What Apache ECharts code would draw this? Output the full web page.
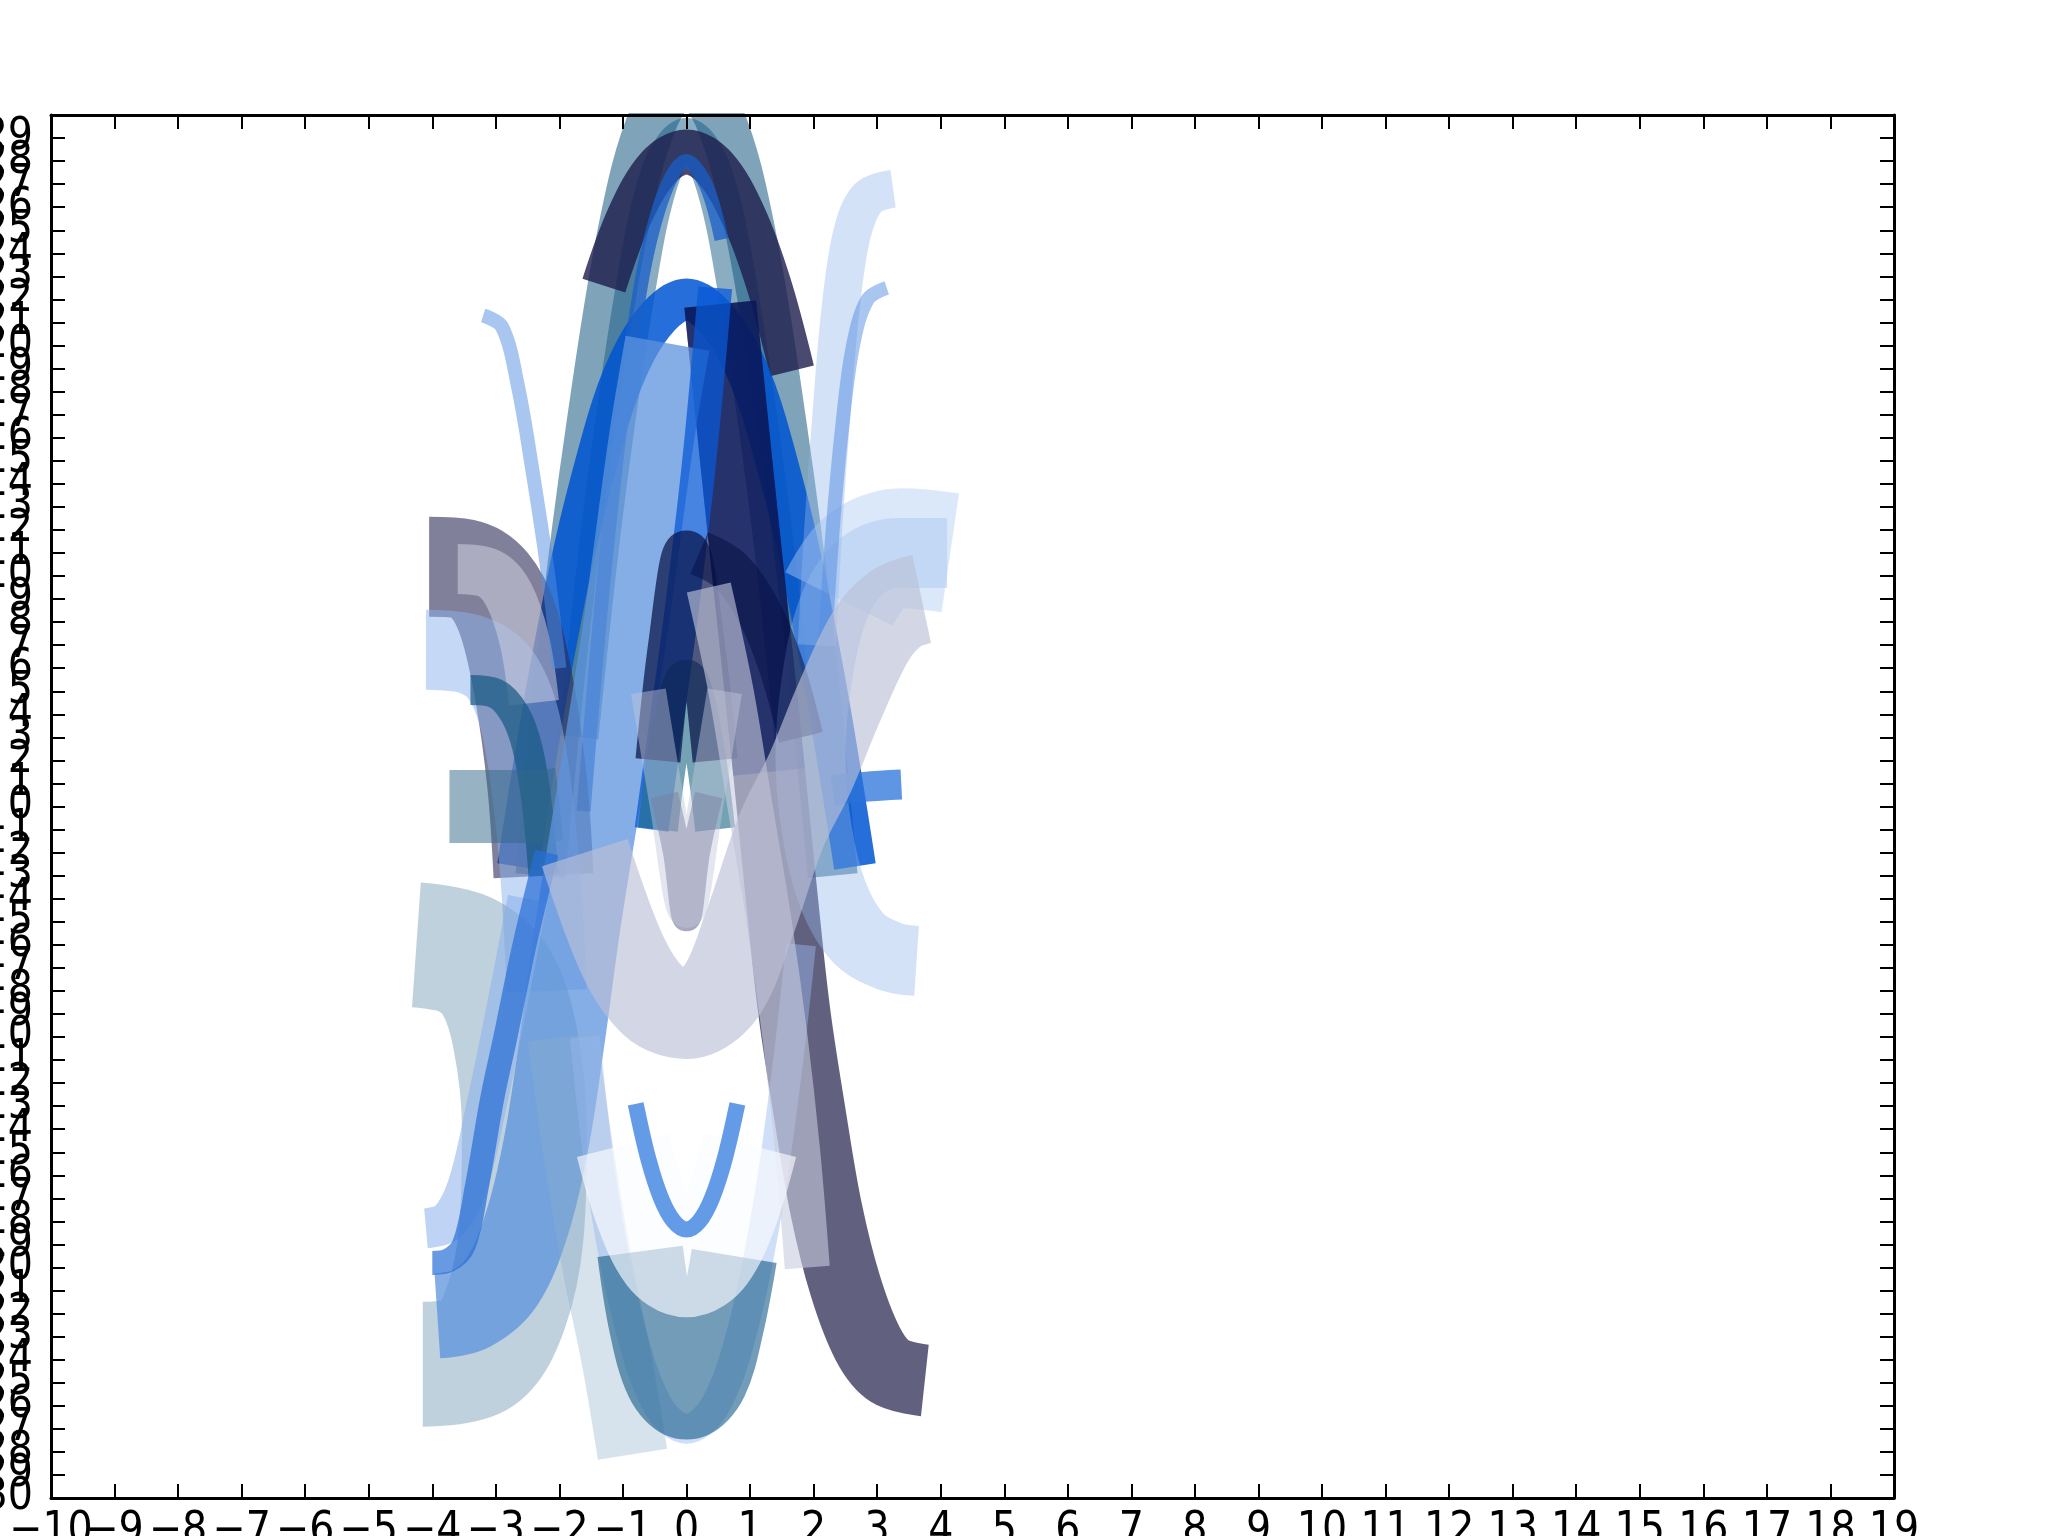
<!DOCTYPE html>
<html>
<head>
<meta charset="utf-8">
<script src="https://cdn.jsdelivr.net/npm/echarts@6/dist/echarts.min.js"></script>
<style>
  html, body { margin: 0; background: #fff; }
  #main { width: 2048px; height: 1536px; }
</style>
</head>
<body>
<div id="main"></div>
<script>
// axis ranges (ticks every 1)
var xRange = [-10, 19];
var yRange = [-30, 30];

// curves, [x, y] points
var tealOuter = [[-2.3,-3],[-1.9,8],[-1.5,16.5],[-1.0,25],[-0.5,30],[0,31.5],[0.5,30],[1.0,25],[1.5,16.5],[1.9,8],[2.3,-3]];
var tealInner = [[-1.7,3],[-1.3,13],[-0.8,22.5],[-0.4,27.5],[0,29],[0.4,27.5],[0.8,22.5],[1.3,13],[1.7,3]];
var navyDome = [[-1.3,22.6],[-0.9,25.6],[-0.45,27.7],[0,28.4],[0.45,27.7],[0.9,25.6],[1.3,22.6],[1.66,18.9]];
var blueDome = [[-2.65,-2.6],[-2.1,6.5],[-1.5,14.1],[-0.8,19.8],[0,22],[0.8,19.8],[1.5,14.1],[2.1,6.5],[2.65,-2.6]];
var blueStripe = [[0.45,22.5],[0.2,15],[-0.1,8],[-0.35,3],[-0.55,-1]];
var thinTop = [[-1.62,-0.2],[-1.25,11.3],[-0.85,20.3],[-0.45,25.8],[0,28],[0.3,27],[0.55,24.6]];
var slate = [[0.53,21.8],[0.8,14.5],[1.05,8],[1.3,1.5],[1.5,-4],[1.7,-9],[1.95,-13.5],[2.2,-17.5],[2.5,-20.8],[2.85,-23.3],[3.2,-24.5],[3.75,-24.9]];
var deepNavy = [[0.53,21.8],[0.8,14.5],[1.05,8],[1.3,1.5]];
var navyArch = [[0.2,11],[0.7,10.2],[1.15,8.4],[1.5,6],[1.8,3]];
var leftPurple = [[-4.05,10.4],[-3.5,10.3],[-3.1,9.6],[-2.8,8],[-2.55,5],[-2.35,1],[-2.25,-3]];
var leftSky = [[-4.1,6.8],[-3.4,6.6],[-2.95,5.8],[-2.65,4],[-2.45,1],[-2.3,-3],[-2.2,-8]];
var leftLilac = [[-3.6,10.3],[-3.1,10.1],[-2.8,9.2],[-2.55,7.2],[-2.4,4.5]];
var leftTeal = [[-3.4,5.05],[-3.0,4.9],[-2.7,4],[-2.5,2.5],[-2.35,0],[-2.25,-3]];
var leftBar = [[-3.73,0],[-3.1,0],[-2.5,0],[-2.0,0.1]];
var steelHook = [[-4.25,-6],[-3.5,-6.4],[-3.0,-7.6],[-2.7,-10],[-2.55,-14],[-2.6,-18.5],[-2.85,-21.8],[-3.3,-23.8],[-4.15,-24.2]];
var skySlab = [[-0.3,20.1],[-0.55,16],[-0.95,8],[-1.35,1],[-1.7,-5],[-1.95,-10],[-2.2,-14.5],[-2.5,-18],[-2.9,-20.6],[-3.4,-21.8],[-3.92,-22.1]];
var skyLow = [[-2.5,-4],[-2.85,-9],[-3.15,-13],[-3.45,-16.5],[-3.75,-18],[-4.1,-18.3]];
var slabEdge = [[-2.2,-2],[-2.55,-6],[-2.85,-10],[-3.06,-12.7],[-3.3,-16.5],[-3.5,-19],[-3.75,-19.7],[-4.0,-19.8]];
var steelDiag = [[-0.85,-28.1],[-1.1,-24],[-1.4,-20],[-1.7,-15],[-1.95,-10]];
var outerU = [[-1.6,-10],[-1.3,-17],[-0.9,-22.5],[-0.45,-26],[0,-27],[0.45,-26],[0.9,-22.5],[1.3,-17],[1.6,-11],[1.8,-6]];
var tealU = [[-0.73,-19.3],[-0.55,-22.4],[-0.3,-24.8],[0,-25.6],[0.3,-24.8],[0.55,-22.4],[0.75,-19.5]];
var rightHook = [[4.1,11],[3.3,11],[2.7,10.3],[2.3,8.5],[2.05,5.5],[1.95,2.2],[2.05,-1],[2.3,-3.8],[2.7,-5.7],[3.2,-6.5],[3.62,-6.7]];
var rightBlock = [[4.15,11],[3.4,11.2],[2.8,10.6],[2.4,9]];
var rightTall = [[3.25,26.8],[2.85,26.4],[2.6,24.8],[2.42,21.5],[2.28,17],[2.15,12],[2.05,7]];
var rightThin = [[3.15,22.5],[2.85,22],[2.62,20],[2.45,16.5],[2.3,12],[2.18,7]];
var leftThin = [[-3.2,21.3],[-2.9,20.8],[-2.65,18.2],[-2.42,14.5],[-2.2,10.5],[-2.0,6]];
var rightBar = [[2.3,0.7],[2.8,0.85],[3.38,0.95]];
var tealSpear = [[-0.45,-1],[-0.25,3],[0,5.5],[0.25,3],[0.45,-1]];
var navySpear = [[-0.45,2],[-0.25,7],[0,11],[0.25,7],[0.45,2]];
var grayV = [[-0.35,0.5],[-0.15,-2],[0,-4.8],[0.15,-2],[0.35,0.5]];
var paleDiag = [[0.35,9.5],[0.7,5],[1.0,0],[1.3,-5],[1.55,-10],[1.75,-15],[1.9,-20]];
var paleU = [[-1.6,-2],[-1.0,-6.5],[-0.5,-8.5],[0,-9],[0.55,-8],[1.0,-5],[1.5,-1],[1.95,1.5],[2.4,4.5],[2.9,7.4],[3.3,8.6],[3.7,9]];
var paleV = [[-0.6,5],[-0.3,0],[0,-4.5],[0.3,0],[0.6,5]];
var whiteU = [[-1.0,-14.7],[-0.7,-17.5],[-0.35,-19.5],[0,-20.1],[0.35,-19.5],[0.7,-17.5],[1.0,-14.7]];
var thinU = [[-0.8,-12.9],[-0.6,-15.3],[-0.4,-17],[-0.2,-18],[0,-18.35],[0.2,-18],[0.4,-17],[0.6,-15.3],[0.8,-12.9]];

var myChart = echarts.init(document.getElementById("main"));

// drawing order, back to front
var strokes = [
  { data: tealOuter, color: "rgba(42,102,137,0.6)", width: 50 },
  { data: tealInner, color: "rgba(21,91,134,0.5)", width: 40 },
  { data: navyDome, color: "rgba(29,29,76,0.8)", width: 45 },
  { data: blueDome, color: "rgba(0,85,210,0.85)", width: 42 },
  { data: thinTop, color: "rgba(25,95,200,0.75)", width: 14 },
  { data: slate, color: "rgba(31,28,73,0.7)", width: 72 },
  { data: deepNavy, color: "rgba(0,20,95,0.6)", width: 72 },
  { data: leftPurple, color: "rgba(43,43,87,0.6)", width: 100 },
  { data: leftSky, color: "rgba(139,177,235,0.5)", width: 80 },
  { data: leftLilac, color: "rgba(215,215,230,0.5)", width: 50 },
  { data: leftTeal, color: "rgba(21,89,131,0.7)", width: 30 },
  { data: leftBar, color: "rgba(47,103,135,0.5)", width: 73 },
  { data: steelHook, color: "rgba(100,145,175,0.42)", width: 125 },
  { data: skySlab, color: "rgba(92,147,221,0.75)", width: 85 },
  { data: blueStripe, color: "rgba(10,90,215,0.75)", width: 34 },
  { data: skyLow, color: "rgba(139,177,235,0.55)", width: 40 },
  { data: slabEdge, color: "rgba(40,110,215,0.7)", width: 24 },
  { data: steelDiag, color: "rgba(140,175,200,0.35)", width: 70 },
  { data: outerU, color: "rgba(150,185,240,0.45)", width: 30 },
  { data: tealU, color: "rgba(20,90,135,0.6)", width: 86 },
  { data: rightHook, color: "rgba(145,182,235,0.4)", width: 70 },
  { data: rightBlock, color: "rgba(175,205,243,0.45)", width: 120 },
  { data: rightTall, color: "rgba(145,182,235,0.4)", width: 38 },
  { data: rightThin, color: "rgba(83,141,225,0.5)", width: 14 },
  { data: leftThin, color: "rgba(83,141,225,0.5)", width: 14 },
  { data: rightBar, color: "rgba(41,115,217,0.75)", width: 30 },
  { data: navyArch, color: "rgba(5,15,70,0.55)", width: 45 },
  { data: tealSpear, color: "rgba(20,100,130,0.6)", width: 40 },
  { data: navySpear, color: "rgba(5,15,70,0.7)", width: 45 },
  { data: grayV, color: "rgba(60,65,110,0.45)", width: 28 },
  { data: paleDiag, color: "rgba(200,203,222,0.6)", width: 45 },
  { data: paleU, color: "rgba(188,192,215,0.65)", width: 90 },
  { data: paleV, color: "rgba(195,200,220,0.45)", width: 35 },
  { data: whiteU, color: "rgba(250,252,255,0.65)", width: 95 },
  { data: thinU, color: "rgba(60,130,225,0.8)", width: 16 }
];

var series = strokes.map(function (s) {
  return {
    type: "line",
    data: s.data,
    smooth: 0.35,
    showSymbol: false,
    silent: true,
    animation: false,
    lineStyle: { color: s.color, width: s.width, cap: "butt", join: "round" }
  };
});

var labelFont = "'DejaVu Sans Condensed', 'DejaVu Sans', sans-serif";
function fmt(v) {
  if (v === yRange[1]) return "";
  return String(v).replace("-", "\u2212");
}
// labels are split into even / odd axes so ECharts never drops a crowded one
function evenFmt(v) { return Math.abs(v) % 2 === 0 ? fmt(v) : ""; }
function oddFmt(v) { return Math.abs(v) % 2 === 1 ? fmt(v) : ""; }

var frameLine = { show: true, onZero: false, lineStyle: { color: "#000", width: 3 } };
var tick = { show: true, inside: true, length: 14, lineStyle: { color: "#000", width: 2 } };

function tickAxis(pos, range) {
  return {
    type: "value", position: pos, min: range[0], max: range[1], interval: 1, z: 60,
    axisLine: frameLine, axisTick: tick, splitLine: { show: false }, axisLabel: { show: false }
  };
}
function labelAxis(pos, range, formatter, margin) {
  return {
    type: "value", position: pos, min: range[0], max: range[1], interval: 1, z: 60,
    axisLine: { show: false }, axisTick: { show: false }, splitLine: { show: false },
    axisLabel: {
      color: "#000", fontSize: 44, fontFamily: labelFont, margin: margin,
      formatter: formatter, showMinLabel: true, showMaxLabel: true, hideOverlap: false
    }
  };
}

var option = {
  animation: false,
  grid: { left: 51, right: 154, top: 115, bottom: 38, containLabel: false, outerBoundsMode: "none" },
  // white band above the plot so thick strokes do not spill over the frame
  graphic: [
    { type: "rect", z: 50, silent: true, shape: { x: 0, y: 0, width: 2048, height: 113 }, style: { fill: "#fff" } }
  ],
  xAxis: [
    tickAxis("bottom", xRange),
    tickAxis("top", xRange),
    labelAxis("bottom", xRange, evenFmt, 12),
    labelAxis("bottom", xRange, oddFmt, 12)
  ],
  yAxis: [
    tickAxis("left", yRange),
    tickAxis("right", yRange),
    labelAxis("left", yRange, evenFmt, 18),
    labelAxis("left", yRange, oddFmt, 18)
  ],
  series: series
};

myChart.setOption(option);
</script>
</body>
</html>
